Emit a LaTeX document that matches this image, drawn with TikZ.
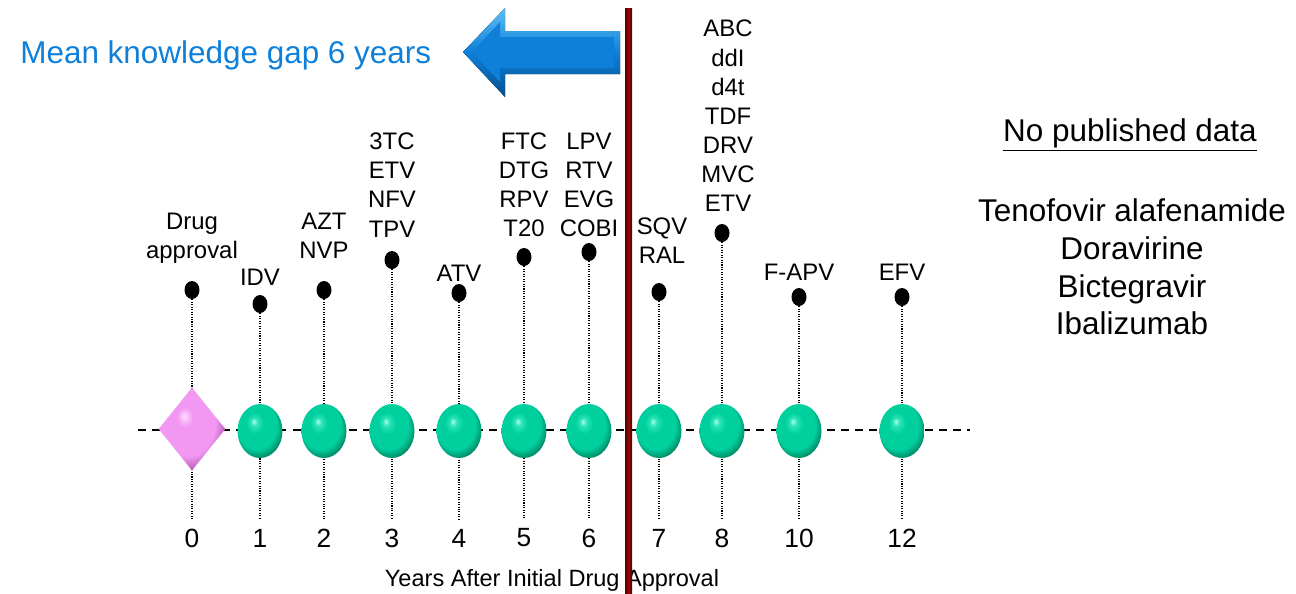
\documentclass[tikz,border=0pt]{standalone}
\usepackage{fontspec}
\setmainfont{Liberation Sans}
\usetikzlibrary{shapes.geometric, positioning}

\definecolor{gapblue}{RGB}{14,128,218}
\definecolor{gaplight}{RGB}{95,190,245}
\definecolor{gapdark}{RGB}{6,78,140}
\definecolor{cutred}{RGB}{150,10,10}
\definecolor{cutdark}{RGB}{80,0,0}
\definecolor{ballhi}{RGB}{175,252,232}
\definecolor{ballmid}{RGB}{40,228,182}
\definecolor{ballgreen}{RGB}{0,208,158}
\definecolor{balldark}{RGB}{0,150,112}
\definecolor{ballrim}{RGB}{0,70,52}
\definecolor{gemhi}{RGB}{255,220,255}
\definecolor{gempink}{RGB}{242,152,242}
\definecolor{gemdark}{RGB}{185,95,185}
\definecolor{gemrim}{RGB}{100,40,100}

\pgfdeclareradialshading{greenball}{\pgfpoint{-7bp}{9bp}}{color(0bp)=(ballhi); color(4bp)=(ballmid); color(10bp)=(ballgreen); color(22bp)=(ballgreen); color(28bp)=(balldark); color(34bp)=(ballrim); color(50bp)=(ballrim)}
\pgfdeclareradialshading{pinkgem}{\pgfpoint{-6bp}{8bp}}{color(0bp)=(gemhi); color(6bp)=(gempink); color(21bp)=(gempink); color(28bp)=(gemdark); color(34bp)=(gemrim); color(50bp)=(gemrim)}

\tikzstyle{yearball} = [ellipse, minimum width=0.9cm, minimum height=1.08cm, inner sep=0pt, shading=greenball]
\tikzstyle{startgem} = [diamond, minimum width=1.34cm, minimum height=1.66cm, inner sep=0pt, shading=pinkgem]
\tikzstyle{pin} = [ellipse, fill=black, minimum width=0.3cm, minimum height=0.36cm, inner sep=0pt]
\tikzstyle{drug} = [align=center, inner sep=0pt, font=\fontsize{13.6}{16.6}\selectfont]
\tikzstyle{yearno} = [inner sep=0pt, font=\fontsize{15}{18}\selectfont]
\tikzstyle{stem} = [line width=0.6pt, dash pattern=on 0.6pt off 0.8pt]
\tikzstyle{timeline} = [line width=0.8pt, dash pattern=on 4.5pt off 3.5pt]

\begin{document}
\begin{tikzpicture}[x=0.02cm, y=-0.02cm]
    \useasboundingbox (0,0) rectangle (1296,593);

    % pins, stems and years
    \foreach \n/\x/\dy in {0/192/290, 1/260/304, 2/324/290, 3/392/260, 4/459/293, 5/524/257, 6/589/252, 7/659/292, 8/722/233, 10/799/297, 12/902/297} {
        \node (dot\n) [pin] at (\x,\dy) {};
        \coordinate (foot\n) at (\x,519);
        \node (yr\n) [yearno] at (\x,538) {\n};
        \draw [stem] (dot\n) -- (foot\n);
    }

    \coordinate (tl) at (138,430);
    \coordinate (tr) at (970,430);
    \draw [timeline] (tl) -- (tr);

    \node (ball0) [startgem] at (192,429) {};
    \foreach \n/\x in {1/260, 2/324, 3/392, 4/459, 5/524, 6/589, 7/659, 8/722, 10/799, 12/902}
        \node (ball\n) [yearball] at (\x,431) {};

    % drug labels
    \node (lab0) [drug] at (192,238) {Drug\\approval};
    \node (lab1) [drug] at (260,277) {IDV};
    \node (lab2) [drug] at (324,236) {AZT\\NVP};
    \node (lab3) [drug] at (392,185) {3TC\\ETV\\NFV\\TPV};
    \node (lab4) [drug] at (459,273) {ATV};
    \node (lab5) [drug] at (524,185) {FTC\\DTG\\RPV\\T20};
    \node (lab6) [drug] at (589,185) {LPV\\RTV\\EVG\\COBI};
    \node (lab7) [drug] at (662,241) {SQV\\RAL};
    \node (lab8) [drug] at (728,116) {ABC\\ddI\\d4t\\TDF\\DRV\\MVC\\ETV};
    \node (lab10) [drug] at (799,272) {F-APV};
    \node (lab12) [drug] at (902,272) {EFV};

    \node (axis) [inner sep=0pt, font=\fontsize{13.4}{16}\selectfont] at (552,580) {Years After Initial Drug Approval};

    % knowledge gap
    \node (gap) [anchor=base west, inner sep=0pt, text=gapblue, font=\fontsize{17.9}{21}\selectfont] at (20,63) {Mean knowledge gap 6 years};
    \fill [top color=gaplight, bottom color=gapdark, middle color=gapblue] (620,31) -- (505,31) -- (505,8) -- (463,52) -- (505,97) -- (505,74) -- (620,74) -- cycle;
    \fill [gapblue] (614,37) -- (500,37) -- (500,22) -- (472,52) -- (500,82) -- (500,68) -- (614,68) -- cycle;

    % unpublished
    \node (nodata) [anchor=base, inner sep=0pt, font=\fontsize{17.9}{21}\selectfont] at (1130,141) {\underline{No published data}};
    \node (newdrugs) [align=center, inner sep=0pt, font=\fontsize{17.9}{21.4}\selectfont] at (1132,267) {Tenofovir alafenamide\\Doravirine\\Bictegravir\\Ibalizumab};

    \shade [left color=cutdark, right color=cutdark, middle color=cutred] (625,8) rectangle (632,593);
\end{tikzpicture}
\end{document}
